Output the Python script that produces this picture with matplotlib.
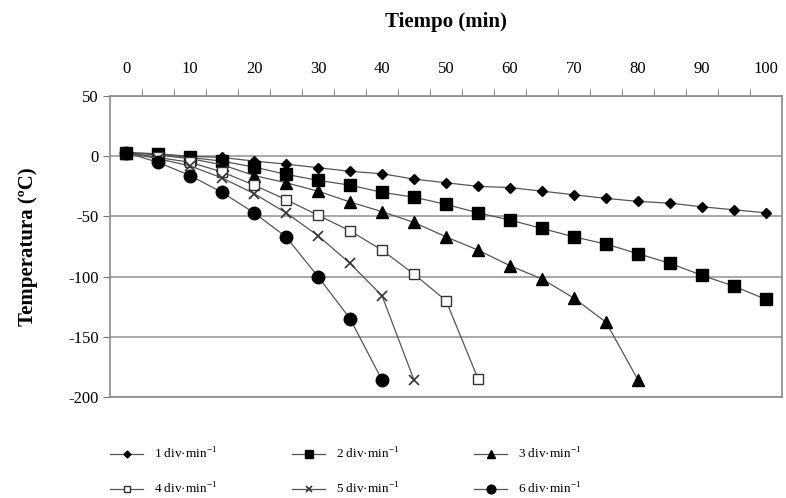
import matplotlib
matplotlib.use("Agg")
import matplotlib.pyplot as plt
import numpy as np

# Time axis (min), every 5 min
tiempo = [0, 5, 10, 15, 20, 25, 30, 35, 40, 45, 50, 55, 60, 65, 70, 75, 80, 85, 90, 95, 100]

# Temperature (ºC) per cooling rate
temp_1 = [3, 2, 0, -1, -4, -6.5, -9.5, -12.5, -14.5, -19, -22, -25, -26, -29, -32, -35, -37.5, -39, -42, -44.5, -47]
temp_2 = [3, 2, -1, -4, -9, -15, -20, -24, -30, -34, -40, -47, -53, -60, -67, -73, -81, -89, -99, -108, -119]
temp_3 = [3, 1, -2, -7, -16, -22, -29, -38, -46, -55, -67, -78, -91, -102, -118, -138, -186]
temp_4 = [3, -1, -5, -13, -24, -36, -49, -62, -78, -98, -120, -185]
temp_5 = [3, -2, -8, -18, -31, -47, -66, -89, -116, -186]
temp_6 = [3, -5, -16, -30, -47, -67, -100, -135, -186]

labels = ["1 div·min$^{\\mathregular{-1}}$", "2 div·min$^{\\mathregular{-1}}$",
          "3 div·min$^{\\mathregular{-1}}$", "4 div·min$^{\\mathregular{-1}}$",
          "5 div·min$^{\\mathregular{-1}}$", "6 div·min$^{\\mathregular{-1}}$"]

x_ticks = [0, 10, 20, 30, 40, 50, 60, 70, 80, 90, 100]
y_ticks = [50, 0, -50, -100, -150, -200]

plt.rcParams["font.family"] = ["Liberation Serif", "DejaVu Serif"]
plt.rcParams["mathtext.fontset"] = "custom"
plt.rcParams["mathtext.rm"] = "Liberation Serif"
plt.rcParams["axes.unicode_minus"] = False

fig = plt.figure(figsize=(7.86, 4.98), dpi=100)
ax = fig.add_axes([0.140, 0.203, 0.855, 0.604])

line_col = "#555555"
styles = [
    dict(marker="D", ms=5, mfc="black", mec="black"),
    dict(marker="s", ms=8, mfc="black", mec="black"),
    dict(marker="^", ms=8, mfc="black", mec="black"),
    dict(marker="s", ms=7, mfc="white", mec="#333333", mew=1.0),
    dict(marker="x", ms=7, mfc="none", mec="#333333", mew=1.2),
    dict(marker="o", ms=9, mfc="black", mec="black"),
]
series = [temp_1, temp_2, temp_3, temp_4, temp_5, temp_6]

handles = []
for vals, st, lab in zip(series, styles, labels):
    h, = ax.plot(tiempo[:len(vals)], vals, color=line_col, lw=0.9, label=lab,
                 zorder=3, clip_on=False, **st)
    handles.append(h)

ax.set_xlim(-2.5, 102.5)
ax.set_ylim(-200, 50)

# x axis on top, like the original
ax.xaxis.tick_top()
ax.xaxis.set_label_position("top")
ax.set_xticks(x_ticks)
ax.set_xticks(np.arange(2.5, 102.5, 5), minor=True)
ax.tick_params(axis="x", which="major", length=0, pad=14, labelsize=12)
ax.tick_params(axis="x", which="minor", length=5, direction="out", color="#777777")
ax.set_xlabel("Tiempo (min)", fontsize=15, fontweight="bold", labelpad=24)

ax.set_yticks(y_ticks)
ax.tick_params(axis="y", length=5, direction="out", color="#777777", labelsize=12, pad=3)
ax.set_ylabel("Temperatura (ºC)", fontsize=15, fontweight="bold", labelpad=22)

ax.grid(axis="y", color="#9a9a9a", lw=1.2)
ax.set_axisbelow(True)
for side in ["top", "left", "right", "bottom"]:
    ax.spines[side].set_color("#8a8a8a")
    ax.spines[side].set_linewidth(1.2)

order = [0, 3, 1, 4, 2, 5]
fig.legend([handles[i] for i in order], [labels[i] for i in order],
           loc="upper left", bbox_to_anchor=(0.125, 0.128), ncol=3, frameon=False,
           fontsize=9.5, handlelength=2.5, handletextpad=0.8, columnspacing=5.7,
           labelspacing=1.5, markerscale=0.7)

fig.savefig("out.png", dpi=100)
